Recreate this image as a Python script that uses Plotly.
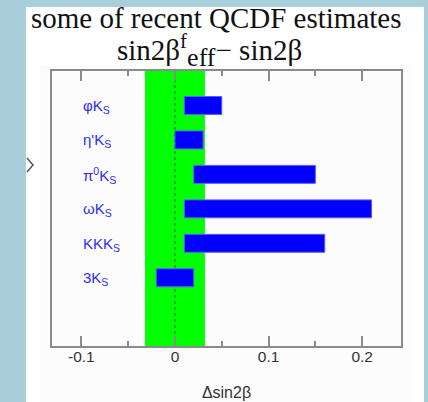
import plotly.graph_objects as go

# Decay channels, top to bottom, and the predicted ranges of Δsin2β
channels = ["φK<sub>S</sub>", "η'K<sub>S</sub>", "π<sup>0</sup>K<sub>S</sub>",
            "ωK<sub>S</sub>", "KKK<sub>S</sub>", "3K<sub>S</sub>"]
range_low = [0.01, 0.0, 0.02, 0.01, 0.01, -0.02]
range_high = [0.05, 0.03, 0.15, 0.21, 0.16, 0.02]
band_low, band_high = -0.032, 0.032

tick_vals = [-0.1, 0, 0.1, 0.2]
tick_text = ["-0.1", "0", "0.1", "0.2"]

rows = list(range(1, len(channels) + 1))

W, H = 428, 402
L, R, T, B = 52, 27, 71, 56
pw, ph = W - L - R, H - T - B


def px(x):
    return (x - L) / pw


def py(y):
    return (H - B - y) / ph


fig = go.Figure()
fig.add_trace(go.Bar(
    y=rows,
    x=[h - l for l, h in zip(range_low, range_high)],
    base=range_low,
    orientation="h",
    width=0.52,
    marker=dict(color="#0000ff", line=dict(color="#5a5aff", width=1)),
    showlegend=False,
    hoverinfo="skip",
))

shapes = [
    # white slide panel over the blue background
    dict(type="rect", xref="paper", yref="paper", layer="below",
         x0=px(26), x1=px(424), y0=py(7), y1=py(410),
         fillcolor="white", line=dict(width=0)),
    dict(type="rect", xref="paper", yref="paper", layer="below",
         x0=px(40), x1=px(413), y0=py(65), y1=py(410),
         fillcolor="#fcfcfc", line=dict(width=0)),
    # experimental band
    dict(type="rect", xref="x", yref="paper", layer="below",
         x0=band_low, x1=band_high, y0=0, y1=1,
         fillcolor="#00ff00", line=dict(width=0)),
    dict(type="line", xref="x", yref="paper", layer="below",
         x0=0, x1=0, y0=0, y1=1,
         line=dict(color="#2f5a2f", width=1, dash="dot")),
    # small navigation chevron on the slide edge
    dict(type="path", xref="paper", yref="paper",
         path=f"M {px(27)} {py(158)} L {px(33)} {py(165)} L {px(27)} {py(172)}",
         line=dict(color="#555555", width=1.5)),
]

serif = dict(family="Liberation Serif", size=29, color="#111111")
annotations = [
    dict(text="some of recent QCDF estimates", xref="paper", yref="paper",
         x=px(216), y=py(18), xanchor="center", yanchor="middle", showarrow=False,
         font=serif),
    dict(text=("sin2β<sup><span style='font-size:21px'>f</span></sup>"
               "<sub><span style='font-size:26px'>eff</span></sub>− sin2β"),
         xref="paper", yref="paper",
         x=px(209), y=py(51), xanchor="center", yanchor="middle", showarrow=False,
         font=serif),
]
for r, name in zip(rows, channels):
    annotations.append(dict(
        text=name, x=-0.1, y=r, xref="x", yref="y",
        xanchor="left", yanchor="middle", showarrow=False, yshift=-1,
        font=dict(family="Liberation Sans", size=15, color="#2e2ef2")))

fig.update_layout(
    width=W, height=H,
    margin=dict(l=L, r=R, t=T, b=B),
    paper_bgcolor="#a8cfdb",
    plot_bgcolor="white",
    shapes=shapes,
    annotations=annotations,
    xaxis=dict(
        range=[-0.1314, 0.2415],
        automargin=False,
        tickvals=tick_vals, ticktext=tick_text,
        ticks="inside", ticklen=10, tickcolor="#8a8a8a", tickwidth=1.5,
        minor=dict(tickvals=[-0.05, 0.05, 0.15], ticks="inside", ticklen=5,
                   tickcolor="#8a8a8a", tickwidth=1.5),
        showline=True, linecolor="#8a8a8a", linewidth=1.5, mirror="ticks",
        showgrid=False, zeroline=False,
        ticklabelstandoff=-4,
        tickfont=dict(family="Liberation Sans", size=15.5, color="#333333"),
        title=dict(text="Δsin2β", standoff=22,
                   font=dict(family="Liberation Sans", size=16, color="#333333")),
    ),
    yaxis=dict(
        range=[7.98, 0.0],
        automargin=False,
        showticklabels=False, ticks="",
        showline=True, linecolor="#8a8a8a", linewidth=1.5, mirror=True,
        showgrid=False, zeroline=False,
    ),
)

fig.write_html("out.html")
